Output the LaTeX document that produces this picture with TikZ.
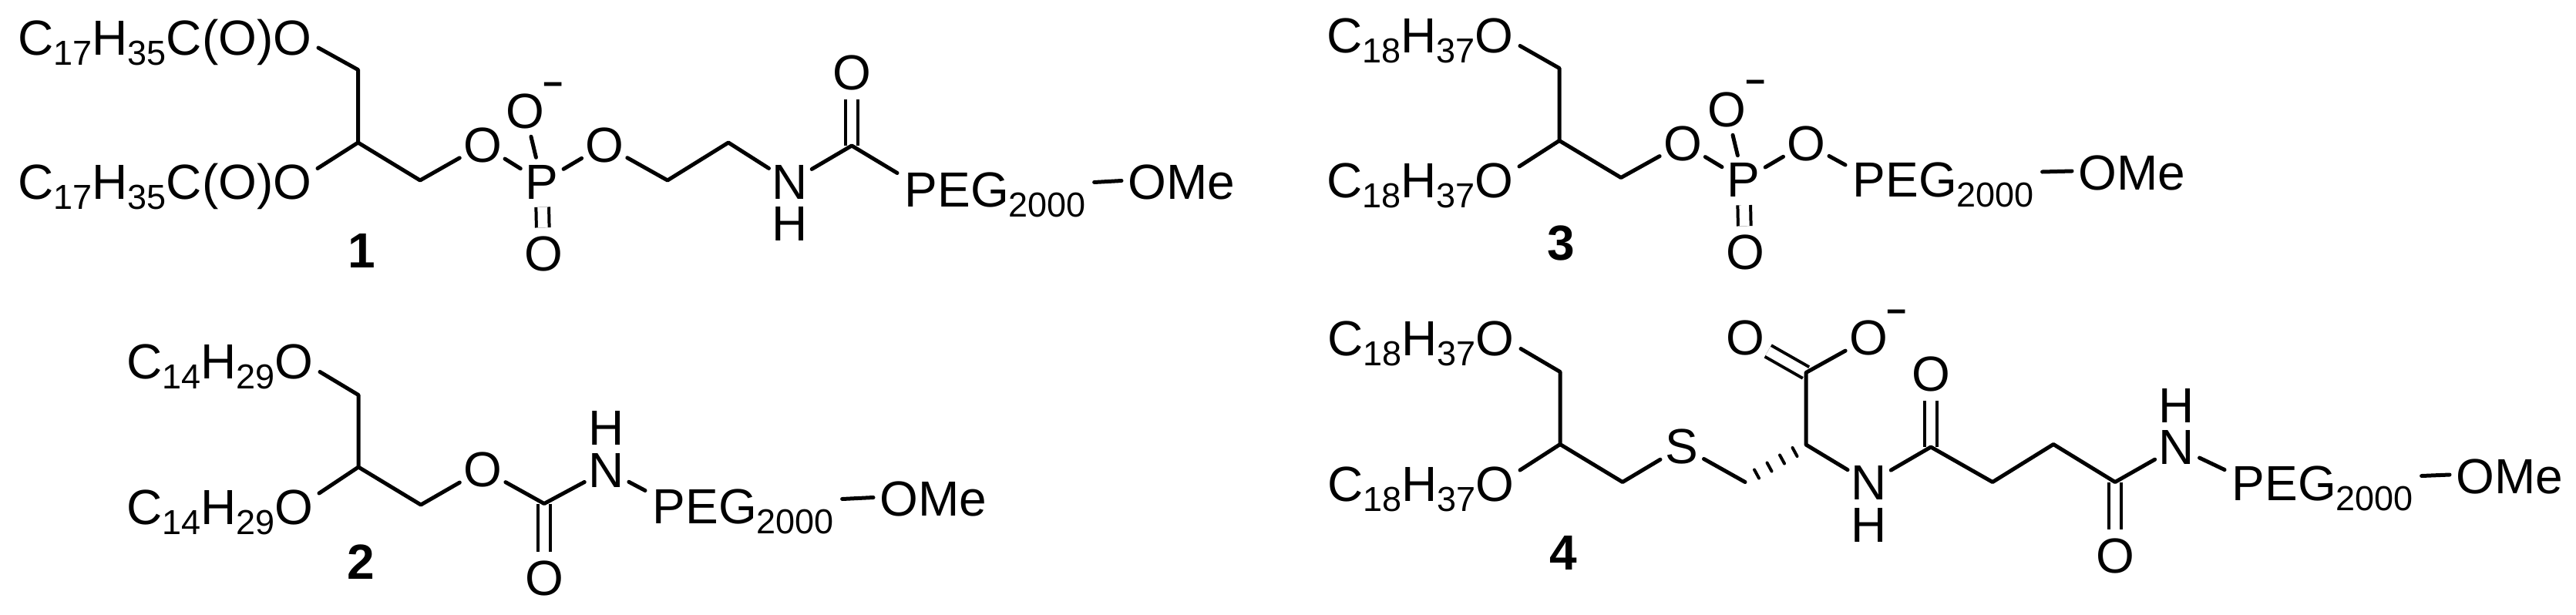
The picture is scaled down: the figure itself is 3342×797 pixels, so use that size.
\documentclass[tikz,border=0pt]{standalone}
\usepackage{fontspec}
\setmainfont{Liberation Sans}
\newcommand{\subs}[1]{\raisebox{-4pt}{\fontsize{13.5}{14}\selectfont #1}}
\newcommand{\lipa}{C\subs{17}H\subs{35}C(O)O}
\newcommand{\lipb}{C\subs{14}H\subs{29}O}
\newcommand{\lipc}{C\subs{18}H\subs{37}O}
\newcommand{\pegt}{PEG\subs{2000}}
\begin{document}
\begin{tikzpicture}[x=0.3pt,y=-0.3pt,font=\fontsize{19.2}{22}\selectfont, line join=round, line cap=round,
	bond/.style={line width=1.5pt},
	dbl/.style={line width=1.2pt,double,double distance=3.8pt,line cap=butt},
	hash/.style={line width=1.2pt},
	atom/.style={circle,inner sep=0pt,minimum size=19.2pt},
	lip/.style={anchor=base east,inner sep=0pt},
	peg/.style={anchor=base west,inner sep=0pt},
	tag/.style={inner sep=0pt,anchor=base,font=\fontsize{19.2}{22}\selectfont\bfseries},
	charge/.style={inner sep=0pt,anchor=base,font=\fontsize{13.5}{14}\selectfont\bfseries}]
	\useasboundingbox (0,0) rectangle (3342,797);
	% molecule 1
	\node[lip] (lipaa) at (405,71) {\lipa};
	\node[lip] (lipab) at (405,258.5) {\lipa};
	\coordinate (caa) at (464.5,90.5);
	\coordinate (cab) at (464.5,185);
	\coordinate (cac) at (545,234);
	\node[atom] (oaa) at (626,188) {O};
	\node[atom] (pa) at (703,236) {P};
	\node[atom] (oab) at (681,144) {O};
	\node[charge] (qa) at (718,124) {−};
	\node[atom] (oac) at (705,329.5) {O};
	\node[atom] (oad) at (784,188) {O};
	\coordinate (cad) at (866,234);
	\coordinate (cae) at (945,185);
	\node[atom] (na) at (1025,236) {N};
	\node[atom] (ha) at (1025,290) {H};
	\coordinate (caf) at (1105,189);
	\node[atom] (oae) at (1105,94.5) {O};
	\node[peg] (pega) at (1173,268.5) {\pegt};
	\node[peg] (omea) at (1463,258.5) {OMe};
	\node[tag] (ta) at (469,347.5) {1};
	\draw[dbl] (pa)--(oac);
	\draw[dbl] (oae)--(caf);
	\draw[bond] ([shift={(8,-9)}]lipaa.base east)--(caa)--(cab)--(cac)--(oaa);
	\draw[bond] ([shift={(7,-40)}]lipab.base east)--(cab);
	\draw[bond] (oaa)--(pa);
	\draw[bond] (pa)--(oab);
	\draw[bond] (pa)--(oad);
	\draw[bond] (oad)--(cad)--(cae)--(na);
	\draw[bond] (na)--(caf)--([shift={(-9,-44)}]pega.base west);
	\draw[bond] ([shift={(10,-32)}]pega.base east)--([shift={(-8,-24)}]omea.base west);
	% molecule 2
	\node[lip] (lipba) at (407,491.5) {\lipb};
	\node[lip] (lipbb) at (407,680) {\lipb};
	\coordinate (cba) at (465,512.5);
	\coordinate (cbb) at (465,606);
	\coordinate (cbc) at (546,655);
	\node[atom] (oba) at (626,609) {O};
	\coordinate (cbd) at (706,653.5);
	\node[atom] (obb) at (706,750) {O};
	\node[atom] (nb) at (787,610) {N};
	\node[atom] (hb) at (787,555) {H};
	\node[peg] (pegb) at (846,679.5) {\pegt};
	\node[peg] (omeb) at (1141,669.5) {OMe};
	\node[tag] (tb) at (468,751) {2};
	\draw[dbl] (cbd)--(obb);
	\draw[bond] ([shift={(8,-9)}]lipba.base east)--(cba)--(cbb)--(cbc)--(oba);
	\draw[bond] ([shift={(7,-40)}]lipbb.base east)--(cbb);
	\draw[bond] (oba)--(cbd)--(nb);
	\draw[bond] (nb)--([shift={(-9,-43)}]pegb.base west);
	\draw[bond] ([shift={(10,-32)}]pegb.base east)--([shift={(-8,-24)}]omeb.base west);
	% molecule 3
	\node[lip] (lipca) at (1964,68.5) {\lipc};
	\node[lip] (lipcb) at (1964,256) {\lipc};
	\coordinate (cca) at (2023,88.5);
	\coordinate (ccb) at (2023,182.5);
	\coordinate (ccc) at (2103,230.5);
	\node[atom] (oca) at (2183,186) {O};
	\node[atom] (pc) at (2262,233.5) {P};
	\node[atom] (ocb) at (2240,142) {O};
	\node[charge] (qc) at (2278,121.5) {−};
	\node[atom] (occ) at (2264,327.5) {O};
	\node[atom] (ocd) at (2343,186) {O};
	\node[peg] (pegc) at (2403,255) {\pegt};
	\node[peg] (omec) at (2696,246) {OMe};
	\node[tag] (tc) at (2025,337.5) {3};
	\draw[dbl] (pc)--(occ);
	\draw[bond] ([shift={(8,-9)}]lipca.base east)--(cca)--(ccb)--(ccc)--(oca);
	\draw[bond] ([shift={(7,-40)}]lipcb.base east)--(ccb);
	\draw[bond] (oca)--(pc);
	\draw[bond] (pc)--(ocb);
	\draw[bond] (pc)--(ocd);
	\draw[bond] (ocd)--([shift={(-9,-41)}]pegc.base west);
	\draw[bond] ([shift={(10,-32)}]pegc.base east)--([shift={(-8,-24)}]omec.base west);
	% molecule 4
	\node[lip] (lipda) at (1965,461.5) {\lipc};
	\node[lip] (lipdb) at (1965,650) {\lipc};
	\coordinate (cda) at (2024,482.5);
	\coordinate (cdb) at (2024,576.5);
	\coordinate (cdc) at (2105,625.5);
	\node[atom] (sd) at (2182,579.5) {S};
	\coordinate (cdd) at (2264,625.5);
	\coordinate (cde) at (2343,577);
	\coordinate (cdf) at (2343,483.5);
	\node[atom] (oda) at (2264,438.5) {O};
	\node[atom] (odb) at (2424,438.5) {O};
	\node[charge] (qd) at (2461,419) {−};
	\node[atom] (nd) at (2425,626.5) {N};
	\node[atom] (hd) at (2425,681) {H};
	\coordinate (cdg) at (2505,580);
	\node[atom] (odc) at (2505,485.5) {O};
	\coordinate (cdh) at (2585,625.5);
	\coordinate (cdi) at (2664,576.5);
	\coordinate (cdj) at (2744,625.5);
	\node[atom] (odd) at (2744,721.5) {O};
	\node[atom] (ne) at (2824,580) {N};
	\node[atom] (he) at (2824,526.5) {H};
	\node[peg] (pegd) at (2895,649.5) {\pegt};
	\node[peg] (omed) at (3186,640) {OMe};
	\node[tag] (td) at (2028,739.5) {4};
	\draw[dbl] (oda)--(cdf);
	\draw[dbl] (odc)--(cdg);
	\draw[dbl] (cdj)--(odd);
	\draw[bond] ([shift={(8,-9)}]lipda.base east)--(cda)--(cdb)--(cdc)--(sd);
	\draw[bond] ([shift={(7,-40)}]lipdb.base east)--(cdb);
	\draw[bond] (sd)--(cdd);
	\draw[bond] (odb)--(cdf)--(cde)--(nd);
	\draw[bond] (nd)--(cdg)--(cdh)--(cdi)--(cdj)--(ne);
	\draw[bond] (ne)--([shift={(-9,-40)}]pegd.base west);
	\draw[bond] ([shift={(10,-32)}]pegd.base east)--([shift={(-8,-24)}]omed.base west);
	\foreach \dx/\dy in {2328.5/586.5,2312/596,2295.5/606,2279/615}
		\draw[hash] (\dx-3,\dy-5.5)--(\dx+3,\dy+5.5);
\end{tikzpicture}
\end{document}
